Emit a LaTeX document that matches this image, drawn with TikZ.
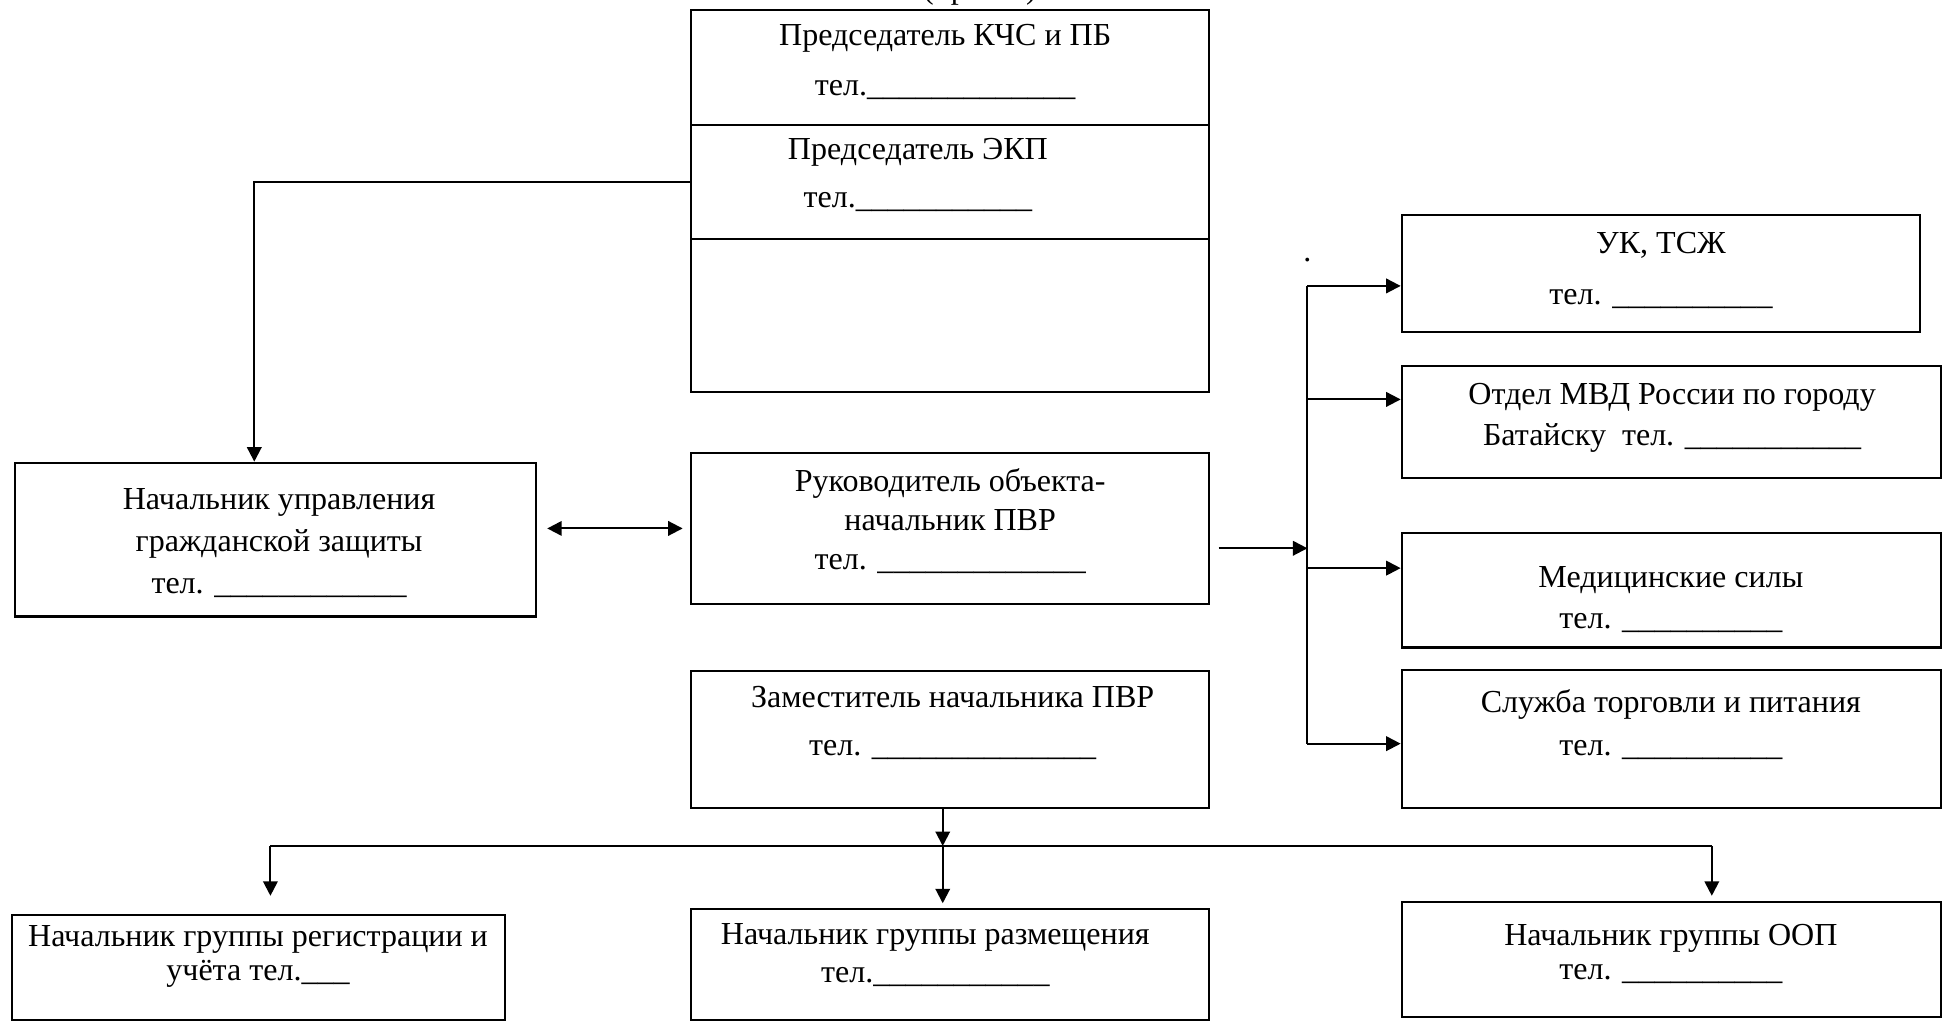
\documentclass[tikz,border=0pt]{standalone}
\usepackage{fontspec}
\setmainfont{Liberation Serif}
\usetikzlibrary{positioning}
\usetikzlibrary{arrows.meta,shapes}
\usetikzlibrary{fit,calc}

\newcommand{\tlf}[1]{\foreach \k in {1,...,#1}{\_}}

\tikzset{
  box/.style={draw, line width=1pt, inner sep=0pt},
  txt/.style={align=center, inner sep=0pt, font=\fontsize{15.5}{19}\selectfont},
  link/.style={line width=1pt},
  arr/.style={link, -{Triangle[length=7pt,width=7pt]}},
  darr/.style={link, {Triangle[length=7pt,width=7pt]}-{Triangle[length=7pt,width=7pt]}},
}

\begin{document}
\begin{tikzpicture}[x=0.6pt, y=-0.6pt]
 \useasboundingbox (0,0) rectangle (1568,823);

 % header, cut off at the top
 \node[txt, anchor=base] (prikaz) at (790,-1) {(приказ)};

 %top column
 \node[box, fit={(557,8) (975,101)}]   (kchs)  {};
 \node[box, fit={(557,101) (975,193)}] (ekp)   {};
 \node[box, fit={(557,193) (975,316)}] (pusto) {};
 \node[txt] (kchs-t) at (762,50)  {Председатель КЧС и ПБ\\[5pt] тел.\tlf{13}};
 \node[txt] (ekp-t)  at (740,141) {Председатель ЭКП\\[3.8pt] тел.\tlf{11}};

 %middle row
 \node[box, fit={(12,373) (432,497)}] (gz) {};
 \node[txt] (gz-t) at (225,438) {Начальник управления\\[1.2pt] гражданской защиты\\[1.2pt] тел. \tlf{12}};

 \node[box, fit={(557,365) (975,487)}] (ruk) {};
 \node[txt] (ruk-t) at (766,420) {Руководитель объекта-\\ начальник ПВР\\ тел. \tlf{13}};

 \node[box, fit={(557,541) (975,651)}] (zam) {};
 \node[txt] (zam-t) at (768,583) {Заместитель начальника ПВР\\[4.4pt] тел. \tlf{14}};

 %right column
 \node[box, fit={(1130,173) (1548,268)}] (uk) {};
 \node[txt] (uk-t) at (1339,218) {УК, ТСЖ\\[6pt] тел. \tlf{10}};
 \node[box, fit={(1130,295) (1565,385)}] (mvd) {};
 \node[txt] (mvd-t) at (1348,337) {Отдел МВД России по городу\\[0.8pt] Батайску\ \ тел. \tlf{11}};
 \node[box, fit={(1130,430) (1565,522)}] (med) {};
 \node[txt] (med-t) at (1347,483) {Медицинские силы\\[0.8pt] тел. \tlf{10}};
 \node[box, fit={(1130,540) (1565,651)}] (sluzh) {};
 \node[txt] (sluzh-t) at (1347,584) {Служба торговли и питания\\[2pt] тел. \tlf{10}};
 \node[txt] (tochka) at (1054,210) {.};

 %bottom row
 \node[box, fit={(10,738) (407,822)}] (reg) {};
 \node[txt] (reg-t) at (208,771) {Начальник группы регистрации и\\[-2.2pt] учёта тел.\tlf{3}};
 \node[box, fit={(557,733) (975,822)}] (razm) {};
 \node[txt] (razm-t) at (754,770) {Начальник группы размещения\\[-1pt] тел.\tlf{11}};
 \node[box, fit={(1130,727) (1565,820)}] (oop) {};
 \node[txt] (oop-t) at (1347,769) {Начальник группы ООП\\[-2.2pt] тел. \tlf{10}};

 % lines
 \draw[arr] (ekp.west) -| ($(gz.north)+(-17,0)$);
 \draw[darr, shorten <=5pt, shorten >=3.5pt] (ruk.west -| gz.east) -- (ruk.west);

 \coordinate (bus) at (1054,442);
 \draw[arr, shorten <=4pt] (ruk.east |- bus) -- (bus);
 \foreach \n/\dy in {uk/10, mvd/-18, med/-18, sluzh/4} {
   \coordinate (\n-in) at ($(\n.west)+(0,\dy)$);
   \draw[arr] (\n-in -| bus) -- (\n-in);
 }
 \draw[link] (uk-in -| bus) -- (sluzh-in -| bus);

 \coordinate (hub) at (760,682);
 \coordinate (hub-l) at (218,682);
 \coordinate (hub-r) at (1380,682);
 \draw[arr] (zam.south -| hub) -- (hub);
 \draw[link] (hub-l) -- (hub-r);
 \draw[arr, shorten >=9pt] (hub-l) -- (hub-l |- reg.north);
 \draw[arr, shorten >=2.4pt] (hub) -- (hub |- razm.north);
 \draw[arr, shorten >=2.4pt] (hub-r) -- (hub-r |- oop.north);

\end{tikzpicture}
\end{document}
